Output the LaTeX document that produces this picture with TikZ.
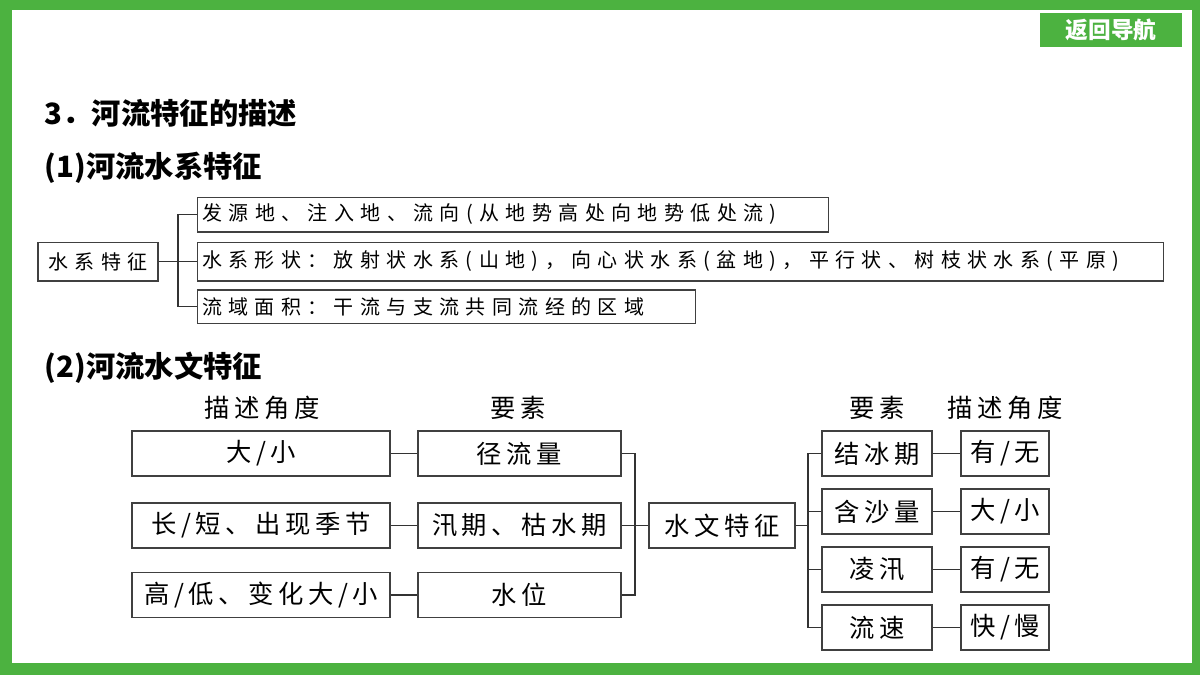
\documentclass[tikz,border=0pt]{standalone}
\usepackage{fontspec}
\setmainfont{Noto Sans CJK SC}
\newfontfamily\cjks[LetterSpace=32]{Noto Sans CJK SC}
\newfontfamily\cjkm[LetterSpace=18]{Noto Sans CJK SC}
\definecolor{gr}{RGB}{76,178,64}
\begin{document}
\begin{tikzpicture}[x=0.75pt,y=-0.75pt,
 bx/.style={draw=black!75,line width=1pt,inner sep=0pt},
 lk/.style={draw=black!80,line width=1pt},
 t1/.style={font=\cjks\fontsize{15}{18}\selectfont},
 t2/.style={font=\cjkm\fontsize{19}{22}\selectfont}]
\useasboundingbox (0,0) rectangle (1200,675);
\fill[gr] (0,0) rectangle (1200,675);
\fill[white] (12,10) rectangle (1192,663);
\node[fill=gr,minimum width=106.5pt,minimum height=25.5pt,text=white,font=\fontsize{17}{20}\selectfont\bfseries] (nav) at (1111,30) {返回导航};
\node[anchor=west,font=\fontsize{22}{26}\selectfont\bfseries] (h1) at (40,113) {3．河流特征的描述};
\node[anchor=west,font=\fontsize{22}{26}\selectfont\bfseries] (h2) at (40,168) {(1)河流水系特征};
\node[anchor=west,font=\fontsize{22}{26}\selectfont\bfseries] (h3) at (40,368) {(2)河流水文特征};
% section 1
\node[bx,t1,minimum width=90pt,minimum height=29pt] (sx) at (98,261.5) {水系特征};
\node[bx,t1,anchor=west,minimum width=473pt,minimum height=26pt,text width=466pt,align=left] (a1) at (197,214.5) {发源地、注入地、流向(从地势高处向地势低处流)};
\node[bx,t1,anchor=west,minimum width=724.5pt,minimum height=29pt,text width=718pt,align=left] (a2) at (197,261.5) {水系形状：放射状水系(山地)，向心状水系(盆地)，平行状、树枝状水系(平原)};
\node[bx,t1,anchor=west,minimum width=373.5pt,minimum height=25pt,text width=367pt,align=left] (a3) at (197,306.5) {流域面积：干流与支流共同流经的区域};
\coordinate (j1) at (178,261.5);
\draw[lk] (sx.east) -- (j1);
\draw[lk] (a1.west) -| (j1) |- (a3.west);
\draw[lk] (j1) -- (a2.west);
% section 2 headers
\node[t2] (c1) at (262,408) {描述角度};
\node[t2] (c2) at (518,408) {要素};
\node[t2] (c3) at (877,408) {要素};
\node[t2] (c4) at (1005,408) {描述角度};
\tikzset{L/.style={bx,t2,minimum width=193.5pt,minimum height=33.75pt},
 M/.style={bx,t2,minimum width=152.25pt,minimum height=33.75pt},
 R/.style={bx,t2,minimum width=82.5pt,minimum height=33.75pt},
 F/.style={bx,t2,minimum width=66pt,minimum height=33.75pt}}
\node[L] (l1) at (261,453.5) {大/小};
\node[L] (l2) at (261,525.5) {长/短、出现季节};
\node[L] (l3) at (261,595) {高/低、变化大/小};
\node[M] (m1) at (519.5,453.5) {径流量};
\node[M] (m2) at (519.5,525.5) {汛期、枯水期};
\node[M] (m3) at (519.5,595) {水位};
\node[bx,t2,minimum width=109.5pt,minimum height=33.75pt] (sw) at (722,525.5) {水文特征};
\node[R] (r1) at (877,453.5) {结冰期};
\node[R] (r2) at (877,511.5) {含沙量};
\node[R] (r3) at (877,569.5) {凌汛};
\node[R] (r4) at (877,627.5) {流速};
\node[F] (f1) at (1005,453.5) {有/无};
\node[F] (f2) at (1005,511.5) {大/小};
\node[F] (f3) at (1005,569.5) {有/无};
\node[F] (f4) at (1005,627.5) {快/慢};
\foreach \i in {1,2,3}{\draw[lk] (l\i) -- (m\i);}
\foreach \i in {1,2,3,4}{\draw[lk] (r\i) -- (f\i);}
\coordinate (jl) at (635,525.5);
\coordinate (jr) at (808,525.5);
\draw[lk] (m1.east) -| (jl) |- (m3.east);
\draw[lk] (m2.east) -- (sw.west);
\draw[lk] (sw.east) -- (jr);
\draw[lk] (r1.west) -| (jr) |- (r4.west);
\draw[lk] (r2.west) -- ++(-14,0);
\draw[lk] (r3.west) -- ++(-14,0);
\end{tikzpicture}
\end{document}
